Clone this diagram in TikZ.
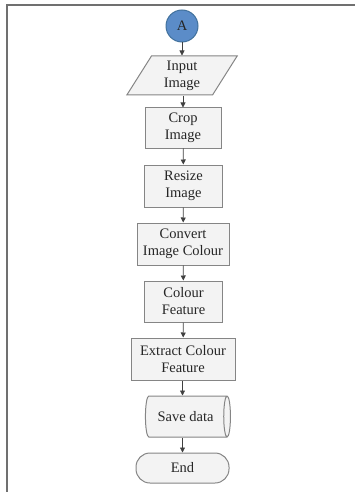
\documentclass[tikz,border=0pt]{standalone}
\usepackage{fontspec}
\setmainfont{Liberation Serif}
\usetikzlibrary{shapes.geometric,arrows.meta}
\definecolor{boxline}{HTML}{858585}
\definecolor{boxfill}{HTML}{F3F3F3}
\definecolor{txt}{HTML}{262626}
\definecolor{circfill}{HTML}{5B8CC8}
\definecolor{circline}{HTML}{41719C}
\definecolor{frameline}{HTML}{707070}
\definecolor{arrowc}{HTML}{404040}
\begin{document}
\begin{tikzpicture}[x=1pt,y=1pt,
  every node/.style={font=\fontsize{14.5}{17}\selectfont, text=txt, align=center, inner sep=1pt},
  procbox/.style={rectangle, draw=boxline, fill=boxfill, line width=1pt},
  iobox/.style={trapezium, trapezium left angle=64, trapezium right angle=116, trapezium stretches=true, draw=boxline, fill=boxfill, line width=1pt},
  connector/.style={circle, draw=circline, fill=circfill, line width=1pt, minimum size=32pt, inner sep=0pt},
  storebox/.style={cylinder, shape aspect=0.55, draw=boxline, fill=boxfill, line width=1pt, minimum width=41pt, minimum height=85pt},
  termbox/.style={rectangle, rounded corners=14pt, draw=boxline, fill=boxfill, line width=1pt},
  flow/.style={draw=arrowc, line width=0.8pt, -{Triangle[width=5pt,length=5pt]}}
]
\useasboundingbox (0,0) rectangle (355,-492);
\draw[frameline, line width=1.8pt] (355,-5) -- (7,-5) -- (7,-492);

\node[connector] (a) at (182,-26) {A};
\node[iobox, minimum width=111pt, minimum height=39pt] (input) at (182,-75.5) {Input\\Image};
\node[procbox, minimum width=76pt, minimum height=40pt] (crop) at (183,-128) {Crop\\Image};
\node[procbox, minimum width=78pt, minimum height=42pt] (resize) at (183.5,-186) {Resize\\Image};
\node[procbox, minimum width=92pt, minimum height=42pt] (convert) at (183,-244) {Convert\\Image Colour};
\node[procbox, minimum width=78pt, minimum height=41pt] (colour) at (183.5,-301.5) {Colour\\Feature};
\node[procbox, minimum width=104pt, minimum height=42pt] (extract) at (183,-359) {Extract Colour\\Feature};
\node[storebox] (save) at (185.5,-416.5) {Save data};
\node[termbox, minimum width=93pt, minimum height=30pt] (end) at (182.5,-468) {End};

\draw[flow] (a.south |- a.south) -- (a.south |- input.north);
\draw[flow] (input.south -| crop.north) -- (crop.north);
\draw[flow] (crop) -- (resize);
\draw[flow] (resize) -- (convert);
\draw[flow] (convert) -- (colour);
\draw[flow] (colour) -- (extract);
\draw[flow] (extract.south -| end.north) -- (save.north -| end.north);
\draw[flow] (save.south -| end.north) -- (end.north);
\end{tikzpicture}
\end{document}
